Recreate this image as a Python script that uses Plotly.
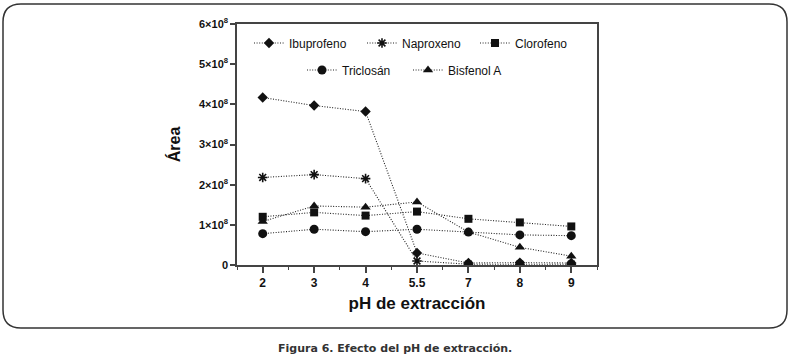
import plotly.graph_objects as go

# ---------------- data ----------------
ph_labels = ["2", "3", "4", "5.5", "7", "8", "9"]
ibuprofeno = [4.17e8, 3.97e8, 3.82e8, 0.30e8, 0.05e8, 0.06e8, 0.05e8]
naproxeno = [2.18e8, 2.25e8, 2.15e8, 0.10e8, 0.02e8, 0.02e8, 0.02e8]
clorofeno = [1.20e8, 1.31e8, 1.23e8, 1.33e8, 1.15e8, 1.06e8, 0.96e8]
triclosan = [0.78e8, 0.89e8, 0.83e8, 0.89e8, 0.82e8, 0.75e8, 0.73e8]
bisfenol_a = [1.08e8, 1.47e8, 1.44e8, 1.57e8, 0.82e8, 0.44e8, 0.22e8]
y_ticks = [0, 1e8, 2e8, 3e8, 4e8, 5e8, 6e8]
y_tick_labels = ["0"] + [f"{i}×10<sup>8</sup>" for i in range(1, 7)]

# ---------------- layout geometry ----------------
W, H = 793, 356
L, R, T, B = 237, 597, 24, 265  # plot area in px


def px(x):
    return (x - L) / (R - L)


def py(y):
    return (B - y) / (B - T)


xpos = list(range(len(ph_labels)))

fig = go.Figure()

series = [
    ("Ibuprofeno", ibuprofeno, "diamond", 8, "legend"),
    ("Naproxeno", naproxeno, "asterisk-open", 8, "legend"),
    ("Clorofeno", clorofeno, "square", 8, "legend"),
    ("Triclosán", triclosan, "circle", 9, "legend2"),
    ("Bisfenol A", bisfenol_a, "triangle-up", 9, "legend2"),
]
for name, vals, sym, size, leg in series:
    fig.add_trace(go.Scatter(
        x=xpos, y=vals, name=name, mode="lines+markers",
        line=dict(color="#222", width=1.1, dash="1px,1.6px"),
        marker=dict(symbol=sym, size=size, color="#111",
                    line=dict(color="#111", width=1.6 if sym == "asterisk-open" else 0)),
        legend=leg,
    ))

# rounded outer frame
x0, x1, y0, y1, r = 3, 787, 4, 328, 18
path = (
    f"M {px(x0 + r)} {py(y0)} L {px(x1 - r)} {py(y0)} "
    f"Q {px(x1)} {py(y0)} {px(x1)} {py(y0 + r)} "
    f"L {px(x1)} {py(y1 - r)} Q {px(x1)} {py(y1)} {px(x1 - r)} {py(y1)} "
    f"L {px(x0 + r)} {py(y1)} Q {px(x0)} {py(y1)} {px(x0)} {py(y1 - r)} "
    f"L {px(x0)} {py(y0 + r)} Q {px(x0)} {py(y0)} {px(x0 + r)} {py(y0)} Z"
)
fig.add_shape(type="path", path=path, xref="paper", yref="paper",
              line=dict(color="#333", width=1.5), fillcolor="rgba(0,0,0,0)")

fig.add_annotation(
    text="<b>Figura 6. Efecto del pH de extracción.</b>",
    xref="paper", yref="paper", x=px(395), y=py(348),
    showarrow=False, xanchor="center", yanchor="middle",
    font=dict(family="DejaVu Sans", size=11, color="#333"),
)

fig.update_layout(
    width=W, height=H,
    margin=dict(l=L, r=W - R, t=T, b=H - B, autoexpand=False),
    paper_bgcolor="white", plot_bgcolor="white",
    font=dict(family="Liberation Sans, Arial", color="#111"),
    showlegend=True,
    legend=dict(orientation="h", x=px(249), y=py(43), xanchor="left", yanchor="middle",
                bgcolor="rgba(0,0,0,0)", font=dict(size=12, color="#111"),
                entrywidth=68, entrywidthmode="pixels", itemwidth=30),
    legend2=dict(orientation="h", x=px(302), y=py(70), xanchor="left", yanchor="middle",
                 bgcolor="rgba(0,0,0,0)", font=dict(size=12, color="#111"),
                 entrywidth=61, entrywidthmode="pixels", itemwidth=30),
    xaxis=dict(
        automargin=False,
        range=[-0.5, len(ph_labels) - 0.5],
        tickvals=xpos, ticktext=ph_labels,
        ticks="outside", ticklen=6, tickwidth=1.5, tickcolor="#444",
        minor=dict(dtick=0.5, tick0=-0.5, ticks="outside", ticklen=3, tickwidth=1.2, tickcolor="#444"),
        showline=True, linecolor="#444", linewidth=1.5, mirror=True,
        showgrid=False, zeroline=False,
        tickfont=dict(size=12, weight="bold", color="#111"),
        title=dict(text="pH de extracción", font=dict(size=17, weight="bold", color="#111"), standoff=8),
    ),
    yaxis=dict(
        automargin=False,
        range=[0, 6e8], tickvals=y_ticks, ticktext=y_tick_labels,
        ticks="outside", ticklen=5, tickwidth=1.5, tickcolor="#444",
        showline=True, linecolor="#444", linewidth=1.5, mirror=True,
        showgrid=False, zeroline=False,
        tickfont=dict(size=11, weight="bold", color="#111"),
        title=dict(text="Área", font=dict(size=16, weight="bold", color="#111"), standoff=14),
    ),
)

fig.write_html(
    "out.html",
    config={"displayModeBar": False},
    post_script="document.body.style.margin='0';document.body.style.padding='0';",
)
